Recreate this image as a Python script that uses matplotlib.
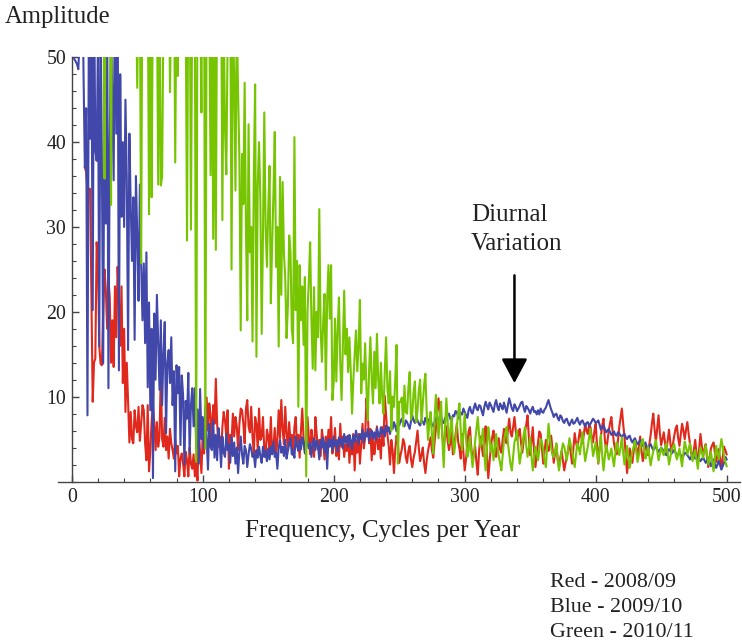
import numpy as np
import matplotlib.pyplot as plt
from matplotlib.ticker import MultipleLocator

plt.rcParams['font.family'] = ['Liberation Serif', 'DejaVu Serif']

# frequency grids (cycles per year)
freq_blue = np.arange(1, 501)
freq_red = np.arange(10, 501)
freq_green = np.arange(24, 501)

# Blue - 2009/10
amp_blue = [
    50, 49.8, 49.5, 49.2, 48.6, 52, 58, 62,
    48, 37, 44, 7.8, 52, 40.4, 55, 20.2, 60, 39, 37.8, 52,
    15.9, 56, 37.4, 13.9, 48, 30.4, 58, 11, 39.8, 54,
    45, 35.5, 62, 41, 60, 13.1, 48, 31.2, 40, 30,
    45, 35.9, 15.5, 41, 32.7, 26, 33.5, 16.7, 36, 29,
    21.3, 35, 25.5, 19, 25.7, 16.3, 27, 11.1, 21.1, 8.4,
    18, 0.4, 19.8, 12, 22, 16.3, 10.8, 19, 9, 15,
    18.8, 5.7, 14, 15.5, 11.6, 17, 9, 13, 1.2, 13.7,
    10.4, 13.5, 4.3, 12.5, 10.2, 2.0, 9.5, 7.4, 12.8, 3.3,
    9, 11, 6.5, 11, 3.9, 8.5, 2.1, 10.9, 5, 7.6,
    3.9, 8.8, 5.2, 1.4, 6.8, 4.1, 3.7, 7.2, 2.8, 5.5,
    2.5, 6.3, 4.8, 1.7, 5.3, 3.4, 2.9, 5.6, 3.7, 4.4,
    2.2, 5.3, 3.0, 4.6, 2.1, 4.0, 1.0, 3.5, 5.3, 3.2,
    2.1, 4.2, 3.7, 1.7, 3.2, 4.4, 3.9, 2.9, 3.3, 1.7,
    3.7, 2.8, 4.1, 3.0, 2.2, 4.1, 2.9, 3.6, 2.4, 3.9,
    2.6, 4.1, 3.2, 4.7, 2.9, 3.4, 1.5, 4.0, 4.9, 3.4,
    4.1, 3.0, 4.9, 2.7, 3.6, 4.4, 5.1, 3.2, 3.7, 2.8,
    5.3, 4.2, 3.6, 4.9, 3.8, 5.2, 4.6, 3.3, 5.0, 4.4,
    3.9, 4.6, 2.9, 4.4, 5.1, 3.7, 4.8, 4.2, 2.6, 4.9,
    4.0, 5.2, 3.5, 4.6, 1.5, 5.0, 4.1, 4.9, 3.6, 5.3,
    4.2, 4.8, 3.5, 5.2, 4.4, 5.1, 3.9, 5.6, 4.6, 5.3,
    4.1, 5.5, 4.9, 3.8, 5.4, 4.7, 6.0, 5.2, 4.4, 5.6,
    5.0, 6.1, 4.6, 5.7, 5.3, 6.2, 4.8, 5.5, 6.0, 5.1,
    5.8, 4.9, 6.3, 5.6, 5.2, 6.4, 5.7, 6.1, 5.3, 6.6,
    5.9, 6.4, 5.6, 6.8, 6.2, 7.0, 6.5, 5.9, 6.9, 6.6,
    7.1, 7.4, 6.8, 6.5, 7.2, 7.0, 6.6, 6.2, 7.1, 7.8,
    7.2, 6.9, 7.5, 7.2, 6.8, 6.6, 7.3, 7.0, 6.7, 7.5,
    7.1, 6.8, 7.4, 7.2, 6.7, 6.5, 7.0, 7.4, 7.7, 7.0,
    7.3, 7.6, 7.0, 6.9, 7.5, 7.3, 7.9, 8.0, 7.4, 7.1,
    7.8, 7.7, 8.3, 8.2, 7.6, 7.4, 8.1, 7.9, 8.6, 8.2,
    7.8, 7.5, 8.4, 8.8, 8.2, 8.0, 8.7, 9.2, 8.6, 8.4,
    9.0, 8.9, 8.3, 7.8, 8.8, 9.4, 8.9, 8.5, 9.3, 9.0,
    8.6, 8.2, 9.1, 9.6, 8.8, 8.4, 9.2, 8.9, 8.5, 9.3,
    8.7, 8.1, 9.0, 9.8, 9.2, 8.6, 8.3, 9.1, 8.8, 8.3,
    8.6, 8.9, 9.3, 9.4, 8.7, 8.2, 8.9, 8.7, 8.4, 8.0,
    8.5, 8.8, 8.2, 8.3, 7.9, 8.4, 7.9, 8.6, 8.2, 8.1,
    8.5, 8.7, 9.2, 9.6, 9.0, 8.5, 8.1, 7.6, 7.9, 8.0,
    7.5, 7.2, 7.8, 7.6, 7.1, 6.9, 7.3, 7.4, 6.9, 6.6,
    7.0, 7.3, 6.8, 6.9, 7.2, 7.5, 7.0, 6.7, 7.1, 7.2,
    6.8, 6.5, 6.9, 7.0, 6.6, 6.8, 7.1, 7.4, 7.2, 6.9,
    7.0, 7.2, 6.7, 6.1, 6.4, 6.6, 6.2, 5.8, 6.0, 6.2,
    5.8, 5.5, 5.7, 5.9, 5.5, 5.4, 5.8, 5.7, 5.4, 5.3,
    5.5, 5.6, 5.2, 5.0, 5.3, 5.4, 4.9, 4.6, 4.9, 5.1,
    4.7, 4.4, 4.6, 4.9, 4.5, 4.2, 4.4, 4.6, 4.1, 3.9,
    4.2, 4.4, 4.0, 3.7, 3.9, 4.2, 3.8, 3.5, 3.7, 4.0,
    3.8, 3.6, 3.3, 3.1, 3.5, 3.8, 3.6, 3.3, 3.5, 3.7,
    3.4, 3.0, 3.2, 3.5, 3.1, 2.8, 3.0, 3.4, 3.3, 3.1,
    2.9, 2.6, 2.9, 3.3, 3.0, 2.7, 2.8, 3.0, 2.7, 2.4,
    2.6, 2.9, 2.5, 2.2, 2.5, 2.8, 2.3, 1.8, 2.2, 2.6,
    2.1, 1.6, 2.0, 2.5, 1.9, 1.4, 1.8, 2.2, 2.9, 2.6,
]

# Red - 2008/09
amp_red = [
    37, 36.5, 34.3, 34.5, 34.5, 22, 9.4, 14, 14.5, 28.2,
    26.1, 16, 13.9, 13.7, 20.2, 25, 22.7, 18, 24, 21.7,
    14, 19, 13.5, 23, 17, 25.3, 21.3, 16, 23, 11.6,
    18, 8.2, 14, 9.5, 4.6, 8.2, 5.0, 4.5, 8.4, 6.5,
    5.8, 8.8, 4.8, 6.8, 9.0, 8.4, 4.5, 2.5, 9.0, 1.2,
    3.7, 7.2, 9.0, 6.9, 3.7, 7.0, 4.1, 5.3, 12.9, 5.0,
    4.1, 7.5, 3.7, 5.3, 2.7, 6.2, 4.5, 3.7, 2.7, 5.0,
    3.3, 4.2, 0.6, 2.7, 3.3, 2.1, 0.6, 3.5, 2.5, 0.6,
    4.0, 2.1, 1.5, 3.2, 0.6, 2.4, 0.1, 5.7, 3.3, 1.0,
    5.7, 3.3, 7.0, 9.9, 6.0, 9.2, 7.8, 4.0, 9.0, 6.8,
    12.1, 6.8, 4.1, 5.3, 3.3, 6.4, 8.2, 7.2, 5.3, 8.4,
    1.5, 5.5, 4.7, 8.0, 5.3, 7.6, 6.5, 3.7, 6.8, 8.6,
    8.4, 6.8, 4.5, 8.6, 9.6, 6.5, 5.8, 8.8, 5.3, 3.3,
    7.6, 6.8, 3.7, 8.6, 4.9, 5.3, 7.6, 3.7, 2.9, 6.1,
    5.3, 3.7, 7.6, 3.3, 4.1, 6.3, 3.0, 4.9, 8.4, 5.1,
    9.6, 6.2, 4.4, 8.8, 5.7, 3.9, 7.0, 4.6, 5.5, 3.1,
    6.4, 7.6, 4.2, 5.5, 2.8, 6.0, 8.6, 5.0, 3.6, 4.4,
    7.6, 5.2, 3.2, 6.1, 4.8, 2.9, 7.6, 5.6, 3.8, 4.9,
    3.0, 6.1, 4.7, 2.6, 5.3, 3.7, 6.1, 4.2, 7.6, 3.3,
    4.1, 6.3, 3.0, 4.9, 2.6, 6.8, 4.1, 5.3, 2.9, 4.4,
    3.6, 5.4, 2.2, 4.7, 3.2, 5.6, 1.3, 4.9, 3.4, 5.6,
    2.1, 4.4, 6.8, 3.9, 5.2, 9.8, 8.0, 4.5, 6.2, 2.5,
    5.6, 3.2, 4.4, 6.5, 3.8, 5.0, 2.7, 6.4, 4.2, 10.1,
    7.8, 5.5, 4.2, 2.0, 4.9, 3.6, 1.0, 3.8, 5.4, 4.5,
    2.2,
    3.1, 3.8, 5.0, 4.5, 2.9, 2.2, 3.6, 4.2, 2.6, 1.7,
    2.8, 3.5, 4.7, 6.0, 3.9, 2.4, 3.1, 4.0, 2.2, 1.0,
    2.5, 3.6, 4.4, 5.2, 3.7, 2.8, 4.6, 6.2, 7.9, 9.8,
    8.4, 7.6, 5.3, 4.1, 5.2, 6.5, 4.8, 3.7, 4.6, 5.8,
    3.2, 4.0, 5.5, 6.8, 4.7, 3.9, 2.7, 5.6, 3.4, 1.3,
    2.6, 4.4, 5.9, 6.4, 4.1, 2.5, 3.3, 4.1, 2.2, 0.8,
    3.6, 5.3, 4.2, 3.0, 4.9, 6.5, 3.1, 0.4, 2.3, 4.2,
    5.2, 6.0, 4.4, 2.9, 4.0, 5.1, 3.8, 3.4, 4.9, 6.2,
    5.0, 4.5, 6.1, 7.4, 5.8, 5.3, 6.4, 7.6, 6.0, 4.9,
    5.5, 6.2, 4.6, 3.4, 4.8, 5.8, 6.7, 7.8, 5.2, 3.1,
    4.7, 6.4, 3.6, 1.7, 3.2, 4.6, 5.9, 5.6, 3.8, 2.1,
    3.6, 4.9, 4.1, 3.6, 4.5, 5.4, 3.9, 2.2, 3.4, 4.3,
    2.6, 1.7, 2.8, 3.6, 2.4, 1.3, 2.2, 2.9, 3.7, 4.8,
    3.3, 2.1, 3.9, 5.7, 4.6, 3.9, 5.0, 6.1, 5.3, 4.5,
    5.6, 6.8, 6.0, 5.6, 6.7, 6.4, 5.2, 4.6, 5.9, 6.8,
    4.4, 2.1, 3.9, 5.4, 6.6, 7.4, 5.0, 3.5, 4.8, 6.0,
    6.9, 7.6, 5.8, 4.5, 3.7, 3.2, 4.8, 6.4, 7.5, 8.6,
    6.8, 5.3, 2.9, 1.0, 2.6, 3.9, 3.0, 2.2, 3.6, 4.9,
    3.9, 3.0, 4.2, 5.3, 3.6, 2.4, 3.5, 4.2, 3.8, 3.1,
    4.4, 5.5, 6.9, 8.0, 6.1, 4.6, 6.3, 7.8, 5.7, 4.3,
    5.0, 5.8, 4.5, 3.6, 4.9, 6.1, 4.6, 3.4, 4.4, 5.4,
    6.2, 6.6, 5.1, 4.2, 5.6, 6.8, 6.0, 5.0, 6.1, 7.0,
    5.6, 4.4, 3.3, 2.6, 3.8, 4.9, 3.3, 2.1, 3.8, 5.6,
    4.2, 3.0, 3.8, 4.4, 2.8, 1.7, 2.9, 3.9, 4.3, 4.6,
    3.4, 2.3, 3.0, 3.8, 2.6, 1.5, 2.9, 4.1, 3.7, 3.2,
]

# Green - 2010/11 (values above 50 run off the top of the plot)
amp_green = [
    70, 35.7, 62, 58, 75, 66, 32.6, 70, 80, 90,
    95, 90, 85, 90, 88, 95, 80, 90, 85, 92,
    88, 80, 75, 70, 65, 58, 46.4, 60, 58, 25.7,
    65, 55, 58, 52, 60, 31.5, 70, 33.5, 60, 55,
    62, 58, 35, 60, 34.9, 35.9, 55, 60, 58, 52,
    65, 45.9, 58, 55, 62, 37.6, 60, 47.8, 70, 58,
    55, 60, 62, 56, 28.4, 60, 65, 29.7, 58, 60,
    55, 2.3, 60, 65, 58, 43.5, 70, 62, 3.9, 60,
    65, 55, 36.1, 58, 28.6, 52, 27.3, 60, 55, 58,
    62, 30.8, 55, 41.7, 36.2, 52, 60, 58, 25, 55,
    48, 34.3, 55, 45.7, 38, 17.8, 38.6, 32.7, 47, 30,
    19, 42.1, 27, 30, 16.5, 36, 46.8, 14.7, 35, 40,
    33.1, 17.4, 29, 43.5, 30, 25.3, 32, 37.2, 21, 28,
    34, 41.2, 25.3, 30, 15.9, 35.9, 22, 35.3, 26.9, 24,
    16.9, 20.6, 29, 27.1, 18, 16.3, 40.6, 20.2, 26, 8.8,
    25.5, 19, 23, 16.1, 24.1, 0.6, 20, 23.7, 28.2, 19,
    13.3, 22.9, 13.1, 20, 17, 32.1, 18, 14.1, 19, 22.1,
    10.8, 21.3, 25.5, 19.2, 25.5, 9.6, 11.7, 19.2, 11.8, 17.8,
    21.7, 14, 9.6, 16, 22.5, 15, 18, 12.9, 17, 13,
    8.0, 12, 15, 17.8, 13, 16, 21.4, 10.4, 13.9, 12,
    16.3, 11, 7.2, 13, 17.0, 12, 9.2, 15.3, 11, 17.4,
    12, 9.2, 14, 10, 8.0, 13, 17.0, 11, 9.2, 13,
    6.0, 10, 8.8, 12, 16.1, 2.1, 9.4,
    9.4, 9.9, 6.5, 11.3, 8.2, 8.0, 11.0, 12.9, 7.3, 8.0,
    10.5, 11.8, 7.0, 8.4, 10.8, 12.0, 6.9, 9.2, 11.4, 12.7,
    8.1, 4.9, 6.8, 8.2, 5.5, 3.3, 7.4, 10.2, 7.6, 5.1,
    7.7, 9.4, 4.8, 1.7, 6.2, 9.8, 7.1, 4.5, 5.9, 7.6,
    5.0, 3.3, 4.9, 6.4, 8.1, 9.2, 6.0, 3.7, 5.5, 8.0,
    5.2, 2.9, 3.6, 5.3, 3.4, 1.7, 3.0, 4.8, 6.2, 7.6,
    5.5, 4.1, 5.0, 6.2, 3.2, 1.3, 3.9, 6.4, 5.1, 3.5,
    4.4, 2.5, 3.8, 5.6, 4.3, 3.0, 2.2, 1.3, 3.1, 4.8,
    5.7, 6.4, 4.5, 3.3, 2.0, 1.3, 2.9, 4.6, 5.2, 6.0,
    3.8, 2.1, 3.2, 4.4, 5.5, 6.4, 4.2, 2.9, 4.0, 5.2,
    3.0, 1.3, 2.7, 4.1, 3.4, 2.5, 3.8, 5.0, 4.6, 3.7,
    2.4, 1.7, 4.2, 6.8, 5.2, 4.0, 3.1, 2.9, 3.6, 4.5,
    2.6, 1.3, 2.4, 3.6, 4.5, 4.1, 3.3, 2.5, 3.8, 5.1,
    4.3, 3.7, 2.6, 1.7, 3.2, 4.5, 4.0, 3.2, 4.6, 5.8,
    3.9, 2.4, 3.3, 4.1, 5.2, 6.2, 4.5, 3.0, 3.7, 4.6,
    3.5, 2.2, 3.9, 5.5, 3.0, 1.3, 2.9, 4.3, 3.6, 2.6,
    3.2, 3.9, 2.7, 1.8, 3.3, 4.6, 3.9, 3.1, 4.0, 5.2,
    3.4, 2.0, 3.0, 4.2, 2.8, 1.6, 2.6, 3.5, 4.1, 4.8,
    3.6, 2.3, 3.1, 3.9, 4.6, 5.0, 3.8, 2.7, 3.3, 4.1,
    3.0, 1.9, 2.8, 3.6, 4.3, 4.9, 3.6, 2.5, 3.2, 4.0,
    3.5, 3.1, 3.9, 4.5, 3.4, 2.0, 2.8, 3.8, 4.1, 4.4,
    3.3, 2.6, 3.2, 3.9, 2.7, 1.8, 3.4, 4.7, 4.0, 3.2,
    3.8, 4.5, 3.5, 2.4, 3.1, 3.7, 2.6, 1.5, 2.9, 4.0,
    3.5, 2.8, 3.6, 4.3, 3.2, 2.0, 2.7, 3.5, 2.3, 1.2,
    2.8, 4.2, 3.4, 2.6, 3.9, 5.0, 4.1, 3.0, 2.3, 1.8,
]

legend_lines = ['Red - 2008/09', 'Blue - 2009/10', 'Green - 2010/11']

W, H = 742, 643
fig = plt.figure(figsize=(W / 100, H / 100), dpi=100)
ax = fig.add_axes([58 / W, 1 - 481.5 / H, 682 / W, 424.2 / H])

ax.plot(freq_red, amp_red, color='#E0281C', lw=1.5)
ax.plot(freq_blue, amp_blue, color='#4148AA', lw=1.5)
ax.plot(freq_green, amp_green, color='#76C500', lw=1.5)

ax.set_xlim(-10.5, 510.2)
ax.set_ylim(0, 50)

for s in ['top', 'right']:
    ax.spines[s].set_visible(False)
ax.spines['left'].set_position(('data', 0))
ax.spines['bottom'].set_position(('data', 0))
for s in ['left', 'bottom']:
    ax.spines[s].set_color('#444444')
    ax.spines[s].set_linewidth(1.0)

ax.xaxis.set_major_locator(MultipleLocator(100))
ax.xaxis.set_minor_locator(MultipleLocator(20))
ax.yaxis.set_minor_locator(MultipleLocator(2))
ax.set_yticks([10, 20, 30, 40, 50])
ax.tick_params(which='both', direction='in', color='#444444', labelsize=14.3, labelcolor='#222222')
ax.tick_params(which='major', length=5, width=1.0)
ax.tick_params(which='minor', length=3, width=0.8)
ax.tick_params(axis='x', pad=5)
ax.tick_params(axis='y', pad=4)

fig.text(5 / W, 1 - 23 / H, 'Amplitude', fontsize=17.7, color='#222222', va='baseline', ha='left')
fig.text(383 / W, 1 - 537 / H, 'Frequency, Cycles per Year', fontsize=18,
         color='#222222', va='baseline', ha='center')

fig.text(471 / W, 1 - 221 / H, 'Diurnal', fontsize=18, color='#222222', ha='left', va='baseline')
fig.text(471 / W, 1 - 250 / H, 'Variation', fontsize=18, color='#222222', ha='left', va='baseline')
ax.annotate('', xy=(338, 11.6), xytext=(338, 24.3),
            arrowprops=dict(arrowstyle='-|>,head_length=0.75,head_width=0.4',
                            mutation_scale=20, lw=1.8, color='black', shrinkA=0, shrinkB=0))

for i, line in enumerate(legend_lines):
    fig.text(550 / W, 1 - (587 + 25 * i) / H, line, fontsize=15.8,
             color='#222222', va='baseline', ha='left')

fig.savefig('out.png', dpi=100)
